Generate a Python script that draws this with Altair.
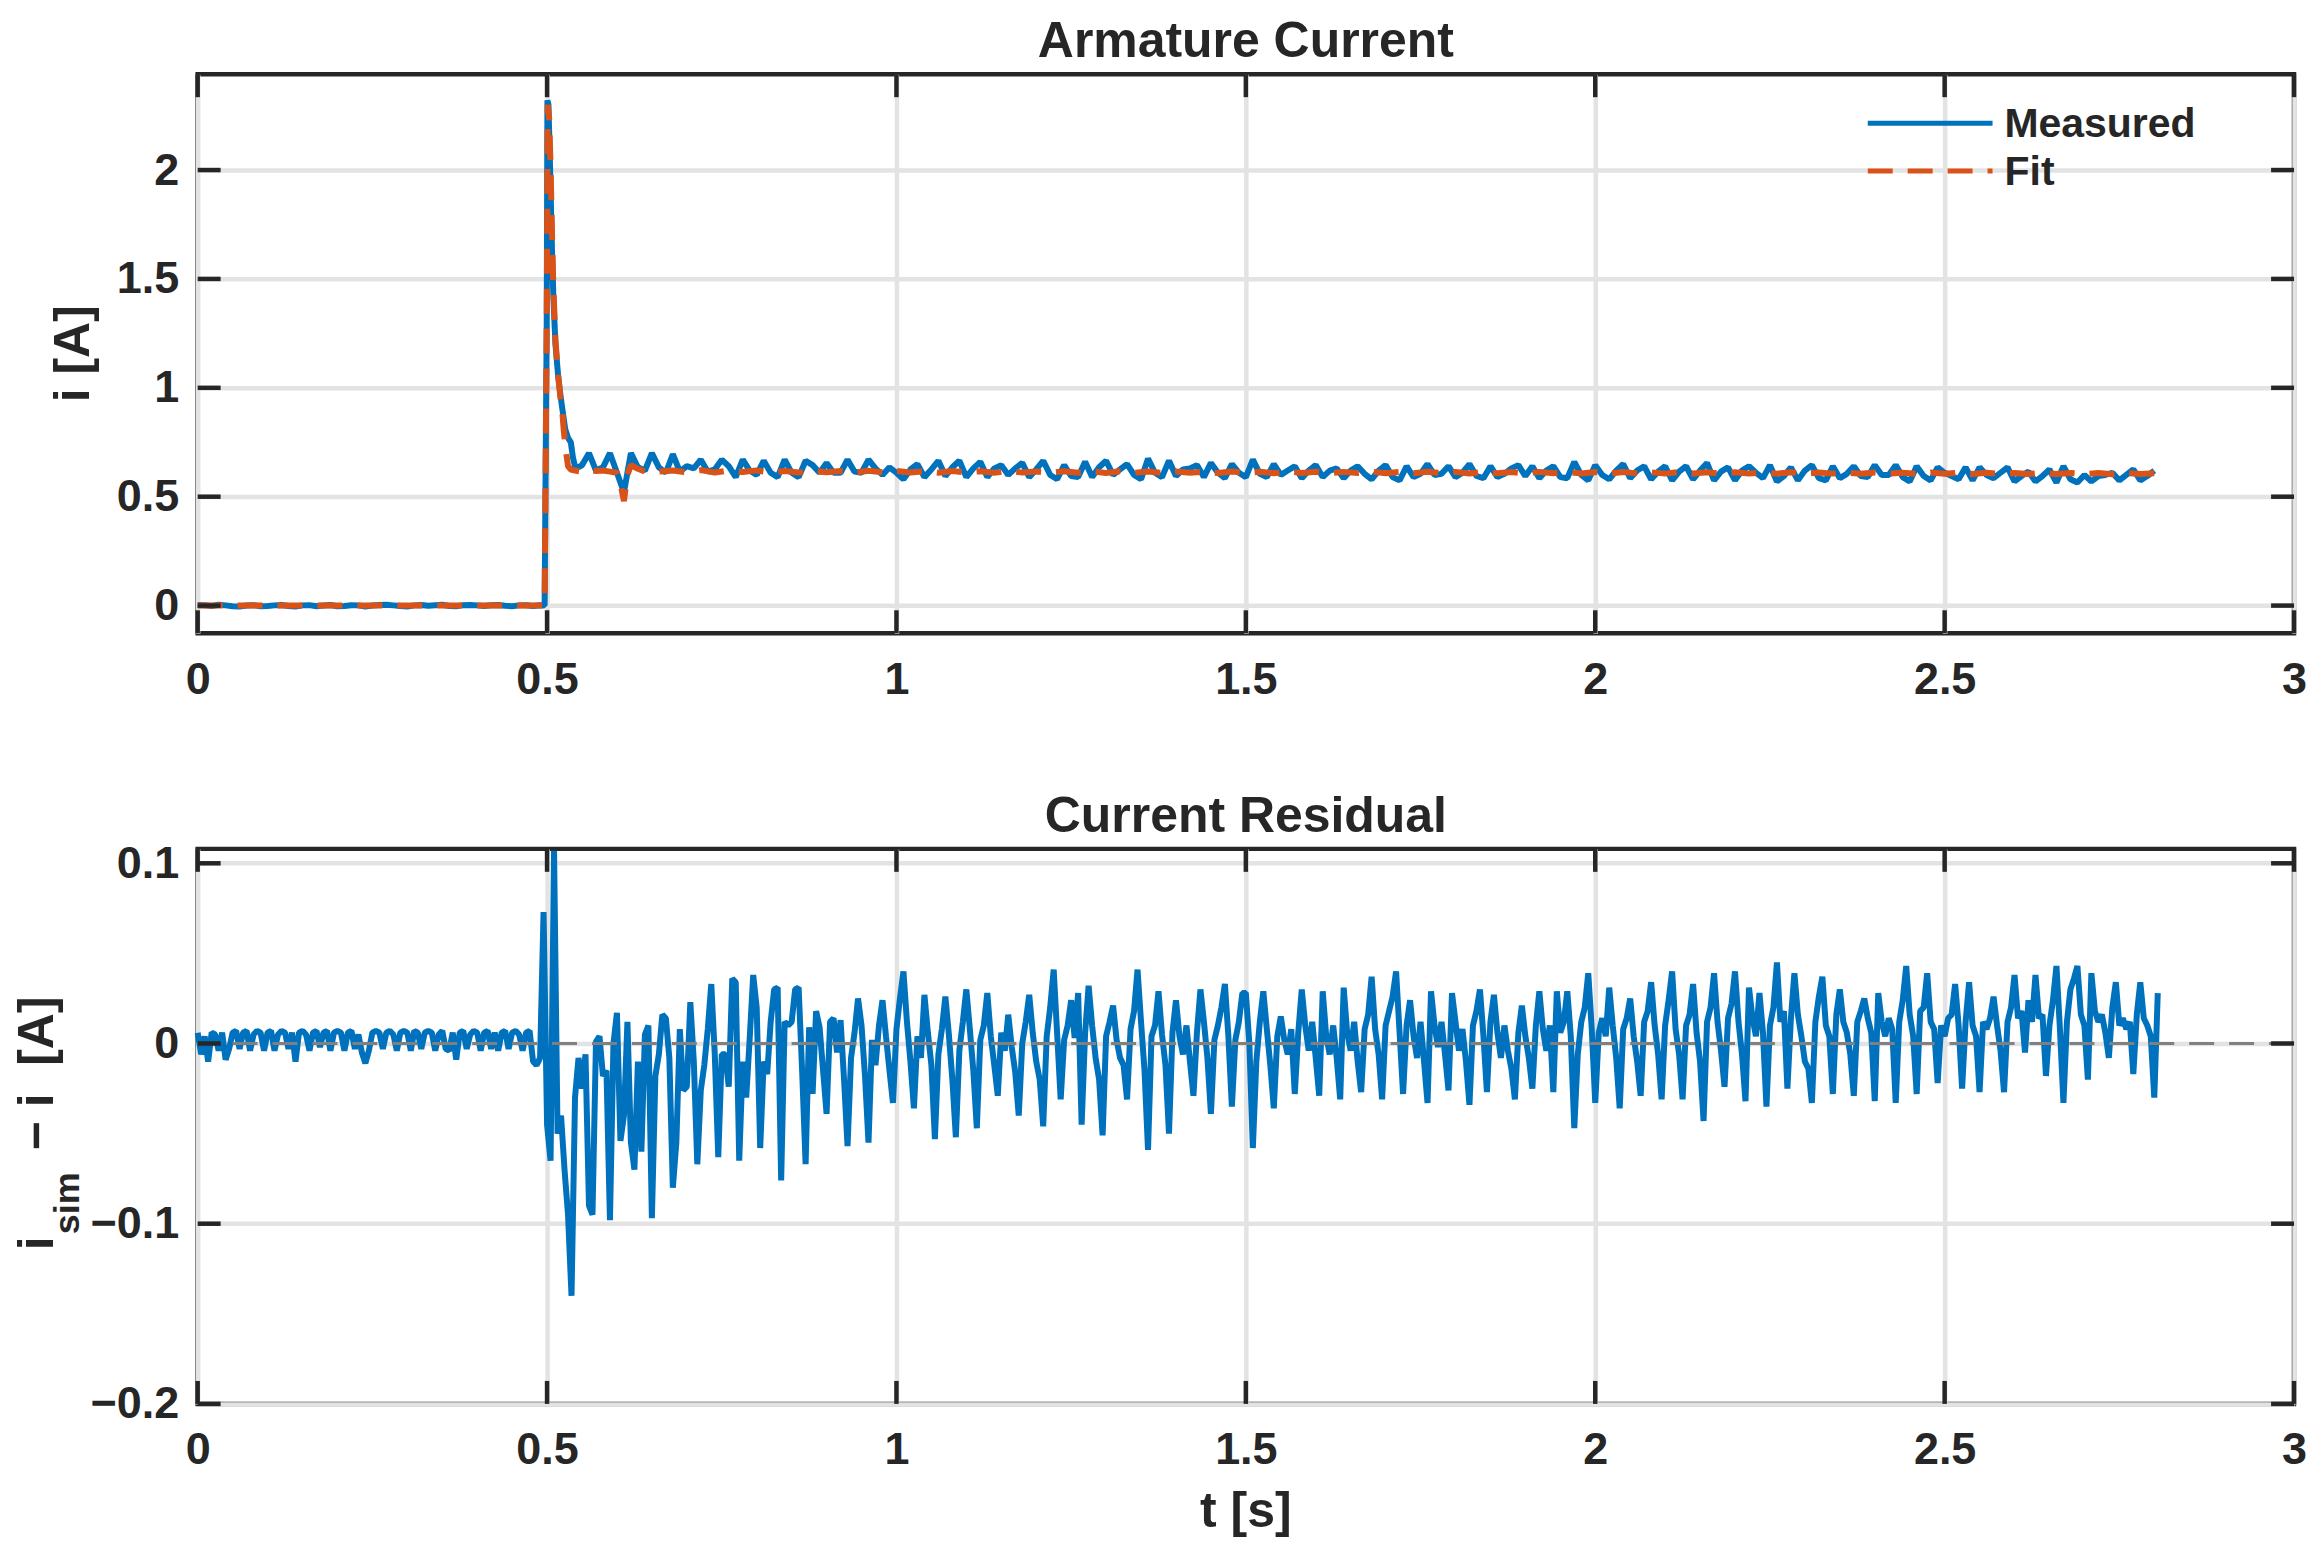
import altair as alt
import numpy as np
import pandas as pd

# ---------------- data ----------------
X_TICKS = [0, 0.5, 1, 1.5, 2, 2.5, 3]
Y1_TICKS = [0, 0.5, 1, 1.5, 2]
Y2_TICKS = [-0.2, -0.1, 0, 0.1]

# Measured current before the step, t = 0.00 ... 0.49 (step 0.01)
MEAS_PRE = [0.003, 0.002, -0.002, 0.004, 0.001, -0.003, -0.004, 0.000, 0.002, -0.003,
            -0.002, 0.001, 0.003, -0.002, -0.004, 0.001, 0.002, -0.003, 0.000, 0.003,
            -0.003, -0.002, 0.002, 0.001, -0.004, 0.000, 0.003, 0.004, 0.001, -0.002,
            -0.004, 0.001, 0.003, -0.001, 0.002, 0.004, -0.002, -0.003, 0.002, 0.003,
            0.001, -0.002, 0.002, 0.003, -0.001, -0.003, 0.001, 0.002, -0.002, 0.002]

# Measured current through the switching transient
MEAS_TR_T = [0.4965, 0.4995, 0.5005, 0.502, 0.504, 0.507, 0.509, 0.512, 0.516, 0.519,
             0.522, 0.526, 0.530, 0.534, 0.537, 0.540, 0.545]
MEAS_TR = [0.000, 1.30, 2.32, 2.30, 2.05, 1.64, 1.42, 1.20, 1.05, 0.97,
           0.90, 0.81, 0.77, 0.75, 0.68, 0.64, 0.635]

# Measured current, t = 0.55 ... 2.80 (step 0.01)
MEAS_SS = [0.645, 0.70, 0.62, 0.635, 0.70, 0.61, 0.52, 0.70, 0.635, 0.62,
           0.70, 0.635, 0.61, 0.695, 0.615, 0.64, 0.63, 0.67, 0.615, 0.625,
           0.67, 0.64, 0.59, 0.67, 0.62, 0.60, 0.665, 0.61, 0.59, 0.67,
           0.61, 0.59, 0.665, 0.645, 0.61, 0.655, 0.61, 0.61, 0.67, 0.615,
           0.61, 0.67, 0.63, 0.60, 0.635,
           0.61, 0.58, 0.625, 0.65, 0.59, 0.625, 0.665, 0.595, 0.635, 0.665,
           0.59, 0.63, 0.66, 0.59, 0.63, 0.645, 0.60, 0.63, 0.655, 0.59,
           0.625, 0.665, 0.60, 0.58, 0.645, 0.595, 0.59, 0.66, 0.59, 0.635,
           0.665, 0.60, 0.625, 0.65, 0.60, 0.58, 0.675, 0.61, 0.59, 0.665,
           0.595, 0.625, 0.63, 0.645, 0.59, 0.655, 0.61, 0.585, 0.65, 0.61,
           0.59, 0.67, 0.605, 0.59, 0.65, 0.60, 0.62, 0.64, 0.585, 0.62,
           0.645, 0.59, 0.62, 0.63, 0.585, 0.62, 0.64, 0.605, 0.58, 0.62,
           0.645, 0.59, 0.575, 0.64, 0.59, 0.605, 0.65, 0.60, 0.605, 0.64,
           0.59, 0.61, 0.65, 0.595, 0.585, 0.64, 0.59, 0.605, 0.63, 0.645,
           0.595, 0.64, 0.585, 0.62, 0.64, 0.59, 0.585, 0.66, 0.60, 0.575,
           0.645, 0.60, 0.58, 0.62, 0.65, 0.585, 0.62, 0.64, 0.58, 0.615,
           0.64, 0.575, 0.615, 0.64, 0.58, 0.62, 0.655, 0.575, 0.615, 0.635,
           0.575, 0.62, 0.64, 0.61, 0.585, 0.645, 0.57, 0.595, 0.635, 0.575,
           0.62, 0.645, 0.585, 0.575, 0.64, 0.585, 0.605, 0.64, 0.595, 0.59,
           0.645, 0.60, 0.60, 0.645, 0.59, 0.57, 0.64, 0.595, 0.575, 0.635,
           0.61, 0.595, 0.58, 0.635, 0.575, 0.635, 0.60, 0.585, 0.61, 0.635,
           0.57, 0.595, 0.615, 0.57, 0.595, 0.625, 0.565, 0.64, 0.58, 0.565,
           0.60, 0.57, 0.595, 0.60, 0.61, 0.575, 0.60, 0.625, 0.575, 0.595, 0.62]

# Fit through the transient
FIT_TR_T = [0.0, 0.4965, 0.4995, 0.501, 0.503, 0.505, 0.507, 0.509, 0.512, 0.516,
            0.519, 0.522, 0.524, 0.527, 0.530, 0.534, 0.54, 0.55, 0.56, 0.57,
            0.58, 0.59, 0.60, 0.605, 0.61, 0.615, 0.62, 0.63, 0.64, 0.65, 0.66]
FIT_TR = [0.0, 0.0, 1.30, 2.30, 2.24, 2.02, 1.72, 1.46, 1.22, 1.05,
          0.96, 0.88, 0.80, 0.71, 0.64, 0.625, 0.62, 0.615, 0.625, 0.618,
          0.62, 0.615, 0.61, 0.56, 0.48, 0.60, 0.645, 0.628, 0.615, 0.62, 0.616]

# Fit, t = 0.68 ... 2.80 (step 0.02)
FIT_SS = [0.620, 0.612, 0.622, 0.611, 0.620, 0.613, 0.621, 0.610, 0.618, 0.611,
          0.620, 0.612, 0.618, 0.610, 0.619, 0.612, 0.618, 0.611, 0.617, 0.610,
          0.618, 0.611, 0.617, 0.610, 0.618, 0.611, 0.616, 0.610, 0.617, 0.610,
          0.616, 0.609, 0.617, 0.610, 0.616, 0.609, 0.616, 0.610, 0.615, 0.609,
          0.616, 0.609, 0.615, 0.608, 0.616, 0.609, 0.615, 0.608, 0.614, 0.609,
          0.615, 0.608, 0.614, 0.608, 0.615, 0.608, 0.614, 0.607, 0.614, 0.608,
          0.613, 0.607, 0.614, 0.608, 0.613, 0.607, 0.613, 0.606, 0.613, 0.607,
          0.612, 0.606, 0.613, 0.607, 0.612, 0.606, 0.612, 0.606, 0.611, 0.606,
          0.612, 0.605, 0.611, 0.606, 0.611, 0.605, 0.611, 0.606, 0.610, 0.605,
          0.611, 0.605, 0.610, 0.604, 0.610, 0.605, 0.609, 0.604, 0.610, 0.604,
          0.609, 0.604, 0.609, 0.603, 0.609, 0.604, 0.608]

# Residual i_sim - i, t = 0.000 ... 2.805 (step 0.005)
RESID = [
    0.006, -0.006, 0.004, -0.010, 0.006, 0.005, -0.004, 0.006, -0.009, -0.003, 0.006, 0.007, -0.003, 0.006, 0.007, -0.004, 0.005, 0.007, 0.006, -0.004,
    0.006, 0.007, -0.004, 0.005, 0.007, 0.006, -0.003, 0.006, -0.010, 0.006, 0.007, 0.005, -0.004, 0.006, 0.007, -0.002, 0.006, 0.007, -0.004, 0.006,
    0.007, 0.006, -0.004, 0.006, 0.007, -0.003, 0.005, -0.005, -0.011, -0.004, 0.006, 0.007, 0.006, -0.003, 0.006, 0.007, 0.005, -0.004, 0.006, 0.007,
    0.006, -0.004, 0.007, 0.006, -0.003, 0.006, 0.007, 0.006, -0.004, 0.005, 0.007, -0.003, -0.004, 0.006, -0.009, 0.006, 0.007, -0.003, 0.005, 0.007,
    0.006, -0.004, 0.006, 0.007, -0.003, 0.006, -0.004, 0.006, 0.007, -0.003, 0.006, 0.007, 0.005, -0.004, 0.006, 0.007, -0.010, -0.012, -0.008, 0.073,
    -0.045, -0.065, 0.107, -0.050, -0.040, -0.070, -0.095, -0.140, -0.030, -0.008, -0.025, -0.006, -0.090, -0.095, 0.001, 0.004, -0.018, -0.015, -0.098, 0.000,
    0.017, -0.054, -0.040, 0.012, -0.055, -0.070, -0.010, -0.060, 0.005, 0.010, -0.097, -0.018, -0.006, 0.016, 0.014, -0.008, -0.080, -0.055, 0.008, -0.026,
    -0.024, 0.023, -0.010, -0.067, -0.026, -0.012, 0.008, 0.033, -0.006, -0.063, -0.006, -0.006, -0.024, 0.036, 0.034, -0.065, -0.010, -0.030, 0.003, 0.038,
    0.020, -0.058, -0.010, -0.017, 0.012, 0.030, 0.031, -0.076, 0.012, 0.010, 0.012, 0.030, 0.031, -0.015, -0.067, 0.009, -0.028, 0.018, 0.009, -0.015,
    -0.039, 0.012, 0.014, -0.005, 0.013, -0.020, -0.057, -0.008, 0.006, 0.025, 0.010, -0.018, -0.055, 0.002, -0.012, 0.010, 0.024, 0.004, -0.015, -0.033,
    0.008, 0.025, 0.040, 0.012, -0.010, -0.036, 0.004, -0.008, 0.027, 0.006, -0.012, -0.053, -0.006, 0.008, 0.026, 0.005, -0.020, -0.052, -0.004, 0.012,
    0.030, 0.008, -0.015, -0.047, 0.002, 0.010, 0.028, 0.004, -0.012, -0.029, 0.006, -0.004, 0.016, -0.002, -0.016, -0.040, 0.000, 0.012, 0.027, 0.006,
    -0.010, -0.020, -0.046, 0.004, 0.020, 0.041, 0.005, -0.031, 0.002, 0.010, 0.024, 0.003, 0.028, -0.045, 0.006, 0.032, 0.010, -0.008, -0.020, -0.051,
    0.004, 0.012, 0.021, 0.002, -0.008, -0.012, -0.031, 0.008, 0.018, 0.041, 0.012, -0.015, -0.059, 0.004, 0.010, 0.029, 0.005, -0.012, -0.050, 0.006,
    0.024, 0.004, -0.006, 0.010, -0.010, -0.029, 0.006, 0.030, 0.012, -0.008, -0.039, 0.002, 0.010, 0.020, 0.033, 0.004, -0.035, 0.002, 0.012, 0.028,
    0.028, 0.000, -0.058, -0.010, 0.012, 0.029, 0.008, -0.012, -0.036, 0.004, 0.015, 0.002, -0.006, 0.008, -0.028, 0.006, 0.030, 0.010, -0.004, 0.012,
    -0.008, -0.029, 0.029, 0.004, -0.006, 0.010, -0.008, -0.031, 0.031, 0.006, -0.004, 0.012, -0.010, -0.027, 0.008, 0.016, 0.037, 0.008, -0.006, -0.031,
    0.010, 0.018, 0.026, 0.040, 0.006, -0.028, 0.010, 0.024, 0.004, -0.008, 0.012, -0.010, -0.033, 0.029, 0.010, -0.002, 0.012, -0.006, -0.026, 0.028,
    0.012, -0.004, 0.008, -0.010, -0.034, 0.010, 0.018, 0.030, 0.004, -0.027, 0.012, 0.027, 0.006, -0.008, 0.010, -0.004, -0.014, -0.031, 0.006, 0.021,
    0.004, -0.008, -0.025, 0.010, 0.029, 0.008, -0.004, 0.010, -0.027, 0.029, 0.006, 0.012, 0.029, 0.004, -0.047, -0.006, 0.012, 0.020, 0.039, 0.008,
    -0.033, 0.006, 0.014, 0.004, 0.031, 0.010, -0.008, -0.036, 0.008, 0.014, 0.025, 0.004, -0.010, -0.029, 0.012, 0.018, 0.034, 0.010, -0.006, -0.031,
    0.010, 0.024, 0.040, 0.008, -0.006, -0.031, 0.010, 0.016, 0.033, 0.006, -0.010, -0.043, 0.012, 0.020, 0.039, 0.012, -0.004, -0.024, 0.014, 0.022,
    0.040, 0.012, -0.006, -0.032, 0.031, 0.014, 0.004, 0.028, 0.006, -0.035, 0.010, 0.020, 0.045, 0.012, 0.018, -0.025, 0.014, 0.039, 0.016, 0.004,
    -0.010, -0.014, -0.033, 0.012, 0.026, 0.037, 0.010, 0.004, -0.028, 0.016, 0.030, 0.012, 0.006, -0.006, -0.029, 0.012, 0.018, 0.025, 0.014, 0.006,
    -0.032, 0.028, 0.012, 0.004, 0.014, 0.008, -0.033, 0.012, 0.024, 0.043, 0.016, 0.004, -0.028, 0.018, 0.020, 0.039, 0.012, 0.008, -0.022, 0.010,
    0.004, 0.014, 0.016, 0.033, 0.010, -0.025, 0.012, 0.034, 0.010, 0.004, -0.027, 0.012, 0.008, 0.014, 0.026, 0.010, -0.004, -0.027, 0.012, 0.020,
    0.038, 0.014, 0.018, -0.005, 0.024, 0.012, 0.038, 0.014, 0.016, -0.018, 0.010, 0.024, 0.043, 0.008, -0.033, 0.012, 0.030, 0.036, 0.043, 0.016,
    0.010, -0.020, 0.039, 0.018, 0.012, 0.016, 0.006, -0.008, 0.020, 0.034, 0.010, 0.014, 0.008, 0.012, -0.017, 0.016, 0.034, 0.014, 0.010, 0.004,
    -0.030, 0.028]

# ---------------- tables ----------------
t_pre = np.round(0.01 * np.arange(len(MEAS_PRE)), 3)
t_ss = np.round(0.55 + 0.01 * np.arange(len(MEAS_SS)), 3)
meas_df = pd.DataFrame({
    "t": list(t_pre) + MEAS_TR_T + list(t_ss),
    "i": MEAS_PRE + MEAS_TR + MEAS_SS,
})
t_fit_ss = np.round(0.68 + 0.02 * np.arange(len(FIT_SS)), 3)
fit_df = pd.DataFrame({"t": FIT_TR_T + list(t_fit_ss), "i": FIT_TR + FIT_SS})
res_df = pd.DataFrame({"t": np.round(0.005 * np.arange(len(RESID)), 4), "r": RESID})

# ---------------- style ----------------
W, H1, H2 = 2100, 560, 556
FONT = "Liberation Sans"
TXT = "#262626"
GRID = "#e3e3e3"
BLUE = "#0072BD"
ORANGE = "#D95319"
TICK_LEN = 23
TICK_W = 4.5
LW = 6

xs = alt.Scale(domain=[0, 3], nice=False, zero=False)
y1s = alt.Scale(domain=[-0.127, 2.44], nice=False, zero=False)
y2s = alt.Scale(domain=[-0.2, 0.108], nice=False, zero=False)

AX_COMMON = dict(format="~g", title=None, grid=True, gridColor=GRID, gridWidth=4.5,
                 ticks=False, tickSize=0, domain=False, labelFontSize=45, labelFont=FONT,
                 labelFontWeight="bold", labelColor=TXT, labelFlush=False, labelOverlap=False)
XAX = alt.Axis(values=X_TICKS, labelPadding=24, **AX_COMMON)
Y1AX = alt.Axis(values=Y1_TICKS, labelPadding=19, **AX_COMMON)
Y2AX = alt.Axis(values=Y2_TICKS, labelPadding=19, **AX_COMMON)

one = pd.DataFrame({"k": [0]})


def text(label, x, y, size, angle=0, align="center"):
    kw = dict(text=label, font=FONT, fontWeight="bold", fontSize=size, color=TXT,
              align=align, baseline="alphabetic")
    if angle:
        kw["angle"] = angle
    return alt.Chart(one).mark_text(**kw).encode(x=alt.value(x), y=alt.value(y))


def inner_ticks(xvals, yvals, ys, yax, h):
    xt = pd.DataFrame({"v": xvals})
    yt = pd.DataFrame({"v": yvals})
    common = dict(color=TXT, strokeWidth=TICK_W)
    return [
        alt.Chart(xt).mark_rule(**common).encode(
            x=alt.X("v:Q", scale=xs, axis=XAX), y=alt.value(h), y2=alt.value(h - TICK_LEN)),
        alt.Chart(xt).mark_rule(**common).encode(
            x=alt.X("v:Q", scale=xs, axis=XAX), y=alt.value(0), y2=alt.value(TICK_LEN)),
        alt.Chart(yt).mark_rule(**common).encode(
            y=alt.Y("v:Q", scale=ys, axis=yax), x=alt.value(0), x2=alt.value(TICK_LEN)),
        alt.Chart(yt).mark_rule(**common).encode(
            y=alt.Y("v:Q", scale=ys, axis=yax), x=alt.value(W), x2=alt.value(W - TICK_LEN)),
    ]


# ---------------- top panel ----------------
meas_line = alt.Chart(meas_df).mark_line(color=BLUE, strokeWidth=LW, strokeJoin="bevel").encode(
    x=alt.X("t:Q", scale=xs, axis=XAX),
    y=alt.Y("i:Q", scale=y1s, axis=Y1AX),
    order="t:Q",
)
fit_line = alt.Chart(fit_df).mark_line(color=ORANGE, strokeWidth=LW, strokeDash=[25, 15],
                                       strokeJoin="bevel").encode(
    x=alt.X("t:Q", scale=xs, axis=XAX),
    y=alt.Y("i:Q", scale=y1s, axis=Y1AX),
    order="t:Q",
)
leg_blue = alt.Chart(one).mark_rule(color=BLUE, strokeWidth=5).encode(
    x=alt.value(1673), x2=alt.value(1798), y=alt.value(49))
leg_orange = alt.Chart(one).mark_rule(color=ORANGE, strokeWidth=5, strokeDash=[25, 15]).encode(
    x=alt.value(1673), x2=alt.value(1798), y=alt.value(97))

top = alt.layer(
    meas_line, fit_line, *inner_ticks(X_TICKS, Y1_TICKS, y1s, Y1AX, H1),
    leg_blue, leg_orange,
    text("Measured", 1810, 63, 41, align="left"),
    text("Fit", 1810, 111, 41, align="left"),
    text("Armature Current", W / 2, -17, 50),
    text("i [A]", -109, H1 / 2, 50, angle=270),
).properties(width=W, height=H1)

# ---------------- bottom panel ----------------
res_line = alt.Chart(res_df).mark_line(color=BLUE, strokeWidth=LW, strokeJoin="bevel").encode(
    x=alt.X("t:Q", scale=xs, axis=XAX),
    y=alt.Y("r:Q", scale=y2s, axis=Y2AX),
    order="t:Q",
)
zero_line = alt.Chart(pd.DataFrame({"z": [0.0]})).mark_rule(
    color="#808080", strokeWidth=3, strokeDash=[25, 15]).encode(
    y=alt.Y("z:Q", scale=y2s, axis=Y2AX))

bottom = alt.layer(
    res_line, zero_line, *inner_ticks(X_TICKS, Y2_TICKS, y2s, Y2AX, H2),
    text("Current Residual", W / 2, -17, 50),
    text("t [s]", W / 2, H2 + 123, 50),
    text("i", -145, 402, 50, angle=270, align="left"),
    text("sim", -119, 386, 36, angle=270, align="left"),
    text("\u2212 i\u00a0\u00a0[A]", -145, 302, 50, angle=270, align="left"),
).properties(width=W, height=H2)

chart = alt.VConcatChart(
    vconcat=[top, bottom], spacing=216, bounds="flush",
).properties(
    padding={"left": 2, "top": 5, "right": 5, "bottom": 5},
    background="white",
).configure_view(stroke=TXT, strokeWidth=4.5)

chart.save("out.html", embed_options={"renderer": "svg", "actions": False})
